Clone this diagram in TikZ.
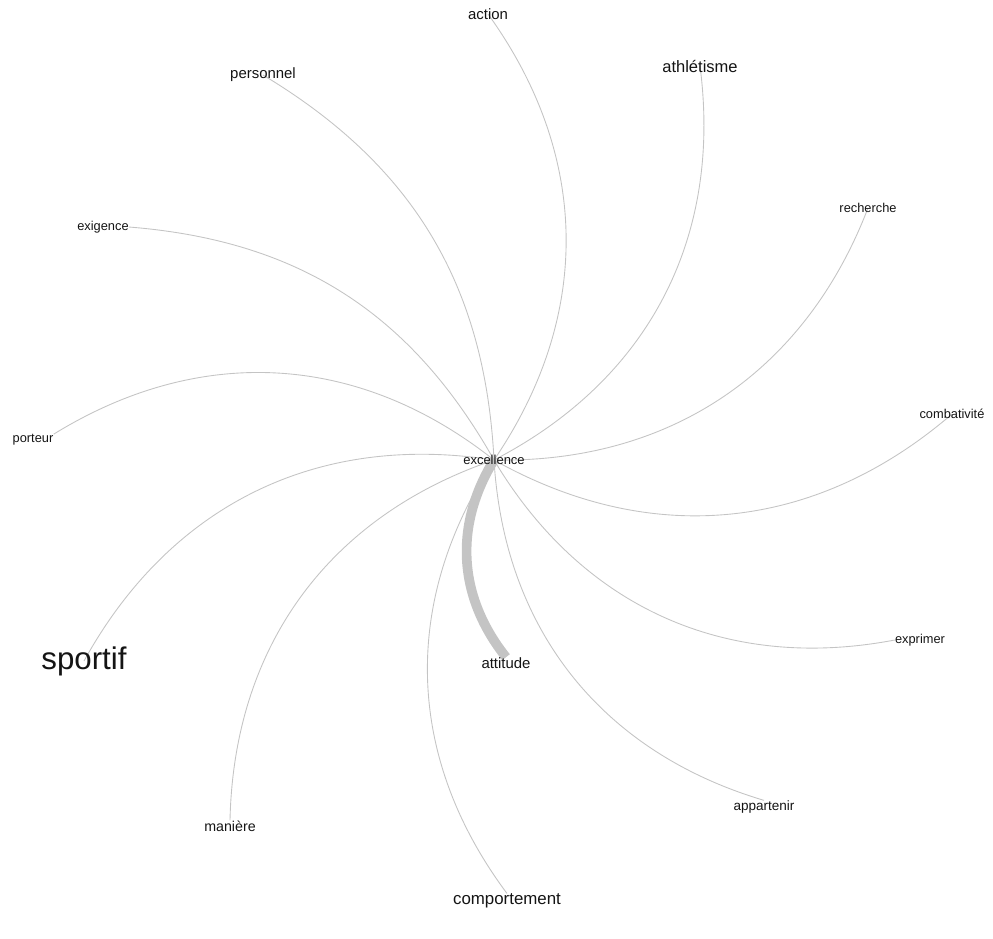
\documentclass[tikz,border=0pt]{standalone}
\usepackage{fontspec}
\setmainfont{Liberation Sans}
\usetikzlibrary{backgrounds}
\definecolor{linkgray}{RGB}{196,196,196}
\definecolor{wordblack}{RGB}{20,20,20}
\begin{document}
\begin{tikzpicture}[x=0.02cm, y=-0.02cm,
    word/.style = {inner sep=0pt, text=wordblack, font=\fontsize{#1pt}{#1pt}\selectfont},
    link/.style = {draw=linkgray, line width=0.5pt},
    strong/.style = {draw=linkgray, line width=5.5pt}]
    \useasboundingbox (0,0) rectangle (993,938);
    \node[word=7.4] (excellence) at (494,460) {excellence};
    \node[word=8.5] (action) at (488,14) {action};
    \node[word=9.4] (athletisme) at (700,66) {athlétisme};
    \node[word=8.5] (personnel) at (263,75) {personnel};
    \node[word=7.3] (recherche) at (868,208) {recherche};
    \node[word=7.3] (exigence) at (103,227) {exigence};
    \node[word=7.3] (combativite) at (952,414) {combativité};
    \node[word=7.3] (porteur) at (33,440) {porteur};
    \node[word=7.3] (exprimer) at (920,640) {exprimer};
    \node[word=17.8] (sportif) at (84,661) {sportif};
    \node[word=8.5] (attitude) at (506,663) {attitude};
    \node[word=8.1] (maniere) at (230,826) {manière};
    \node[word=7.7] (appartenir) at (764,807) {appartenir};
    \node[word=9.6] (comportement) at (507,901) {comportement};
    \begin{scope}[on background layer]
    \draw[strong] (excellence.center) to[bend right=35] (attitude.north);
    \draw[link] (excellence.center) to[bend right=35] (action.center);
    \draw[link] (excellence.center) to[bend right=35] (athletisme.center);
    \draw[link] (excellence.center) to[bend right=28] (personnel.center);
    \draw[link] (excellence.center) to[bend right=35] (recherche.center);
    \draw[link] (excellence.center) to[bend right=28] (exigence.east);
    \draw[link] (excellence.center) to[bend right=35] (combativite.center);
    \draw[link] (excellence.center) to[bend right=35] (porteur.north east);
    \draw[link] (excellence.center) to[bend right=35] (exprimer.west);
    \draw[link] (excellence.center) to[bend right=35] (sportif.center);
    \draw[link] (excellence.center) to[bend right=35] (maniere.north);
    \draw[link] (excellence.center) to[bend right=35] (appartenir.north);
    \draw[link] (excellence.center) to[bend right=35] (comportement.north);
    \end{scope}
\end{tikzpicture}
\end{document}
